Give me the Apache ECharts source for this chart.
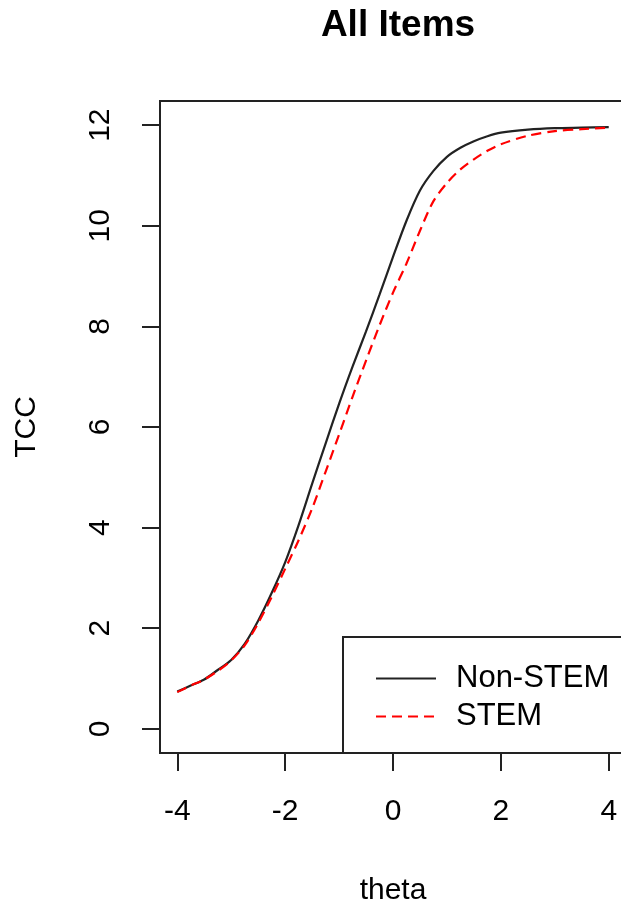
<!DOCTYPE html>
<html>
<head>
<meta charset="utf-8">
<title>All Items</title>
<script src="https://cdn.jsdelivr.net/npm/echarts@6.0.0/dist/echarts.min.js"></script>
<style>
  html, body { margin: 0; padding: 0; background: #fff; }
  #chart { width: 621px; height: 907px; }
</style>
</head>
<body>
<div id="chart"></div>
<script>
// theta grid
const theta = [-4, -3.75, -3.5, -3.25, -3, -2.75, -2.5, -2.25, -2, -1.75, -1.5, -1.25, -1,
  -0.75, -0.5, -0.25, 0, 0.25, 0.5, 0.75, 1, 1.25, 1.5, 1.75, 2, 2.5, 3, 3.5, 4];
const nonStem = [0.74, 0.86, 0.98, 1.17, 1.37, 1.69, 2.15, 2.70, 3.31, 4.05, 4.87, 5.67, 6.46,
  7.20, 7.90, 8.63, 9.38, 10.10, 10.70, 11.09, 11.37, 11.55, 11.68, 11.78, 11.85, 11.91, 11.94, 11.95, 11.96];
const stem = [0.73, 0.86, 0.98, 1.15, 1.36, 1.66, 2.10, 2.62, 3.18, 3.75, 4.38, 5.11, 5.85,
  6.60, 7.32, 8.02, 8.67, 9.25, 9.90, 10.49, 10.85, 11.12, 11.32, 11.49, 11.62, 11.79, 11.88, 11.92, 11.95];
const xTicks = [-4, -2, 0, 2, 4];
const yTicks = [0, 2, 4, 6, 8, 10, 12];

const font = 'Liberation Sans, Arial, sans-serif';
const chart = echarts.init(document.getElementById('chart'));

const option = {
  animation: false,
  title: {
    text: 'All Items',
    left: 393,
    top: 2,
    textAlign: 'center',
    textStyle: { fontSize: 37, fontWeight: 'bold', fontFamily: font, color: '#000' }
  },
  grid: {
    left: 160,
    top: 101,
    width: 466,
    height: 652,
    show: true,
    borderColor: '#222',
    borderWidth: 2,
    backgroundColor: 'transparent',
    outerBoundsMode: 'none'
  },
  xAxis: {
    type: 'value',
    min: -4.32,
    max: 4.32,
    name: 'theta',
    nameLocation: 'middle',
    nameGap: 123,
    nameTextStyle: { fontSize: 30, fontFamily: font, color: '#000' },
    axisLine: { show: false, onZero: false },
    splitLine: { show: false },
    axisTick: {
      show: true,
      length: 18,
      customValues: xTicks,
      lineStyle: { color: '#222', width: 2 }
    },
    axisLabel: {
      customValues: xTicks,
      margin: 44,
      fontSize: 30,
      fontFamily: font,
      color: '#000'
    }
  },
  yAxis: {
    type: 'value',
    min: -0.48,
    max: 12.48,
    name: 'TCC',
    nameLocation: 'middle',
    nameGap: 118,
    nameRotate: 90,
    nameTextStyle: { fontSize: 30, fontFamily: font, color: '#000' },
    axisLine: { show: false, onZero: false },
    splitLine: { show: false },
    axisTick: {
      show: true,
      length: 18,
      customValues: yTicks,
      lineStyle: { color: '#222', width: 2 }
    },
    axisLabel: {
      customValues: yTicks,
      rotate: 90,
      margin: 44,
      fontSize: 30,
      fontFamily: font,
      color: '#000'
    }
  },
  legend: {
    orient: 'vertical',
    left: 370,
    top: 658,
    itemWidth: 60,
    itemHeight: 30,
    itemGap: 7,
    itemStyle: { opacity: 0 },
    textStyle: { fontSize: 31, fontFamily: font, color: '#000', padding: [0, 0, 0, 15] },
    data: ['Non-STEM', 'STEM']
  },
  graphic: [{
    type: 'rect',
    shape: { x: 343, y: 637, width: 300, height: 116 },
    style: { fill: 'none', stroke: '#222', lineWidth: 2 },
    silent: true
  }],
  series: [{
    name: 'Non-STEM',
    type: 'line',
    data: theta.map((t, i) => [t, nonStem[i]]),
    smooth: 0.3,
    symbol: 'none',
    lineStyle: { color: '#222', width: 2.2 },
    itemStyle: { color: '#222' }
  }, {
    name: 'STEM',
    type: 'line',
    data: theta.map((t, i) => [t, stem[i]]),
    smooth: 0.3,
    symbol: 'none',
    lineStyle: { color: '#ff0000', width: 2.2, type: [10, 6] },
    itemStyle: { color: '#ff0000' }
  }]
};
chart.setOption(option);
</script>
</body>
</html>
